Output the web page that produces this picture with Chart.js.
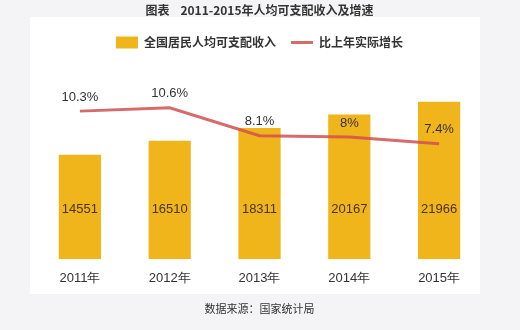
<!DOCTYPE html>
<html>
<head>
<meta charset="utf-8">
<script src="https://cdn.jsdelivr.net/npm/chart.js@4/dist/chart.umd.min.js"></script>
<style>
    html, body { margin: 0; padding: 0; background: #f4f4f6; }
    #wrap { width: 520px; height: 330px; }
</style>
</head>
<body>
<div id="wrap"><canvas id="incomeChart" width="520" height="330"></canvas></div>
<script>
// Chart data
const years = ['2011年', '2012年', '2013年', '2014年', '2015年'];
const income = [14551, 16510, 18311, 20167, 21966];
const growth = [10.3, 10.6, 8.1, 8, 7.4];

const cjkFont = "'Noto Sans CJK SC', 'Noto Sans', sans-serif";
const numFont = "'Liberation Sans', Arial, sans-serif";

// Gray page with a white card behind the chart
const panelPlugin = {
    id: 'panel',
    beforeDraw(chart) {
        const ctx = chart.ctx;
        ctx.save();
        ctx.fillStyle = '#f4f4f6';
        ctx.fillRect(0, 0, chart.width, chart.height);
        ctx.fillStyle = '#ffffff';
        ctx.fillRect(30, 17, 450, 277);
        ctx.restore();
    }
};

// Value labels inside bars and above the line points
const labelPlugin = {
    id: 'valueLabels',
    afterDatasetsDraw(chart) {
        const ctx = chart.ctx;
        const points = chart.getDatasetMeta(0).data;
        const bars = chart.getDatasetMeta(1).data;
        ctx.save();
        ctx.textAlign = 'center';
        ctx.textBaseline = 'middle';

        ctx.font = '13px ' + numFont;
        ctx.fillStyle = '#4a3418';
        bars.forEach((bar, i) => {
            ctx.fillText(String(income[i]), bar.x, chart.chartArea.bottom - 50);
        });

        ctx.fillStyle = '#333333';
        points.forEach((pt, i) => {
            ctx.fillText(growth[i] + '%', pt.x, pt.y - 14);
        });
        ctx.restore();
    }
};

const ctx = document.getElementById('incomeChart').getContext('2d');
new Chart(ctx, {
    data: {
        labels: years,
        datasets: [
            {
                type: 'line',
                label: '比上年实际增长',
                data: growth,
                yAxisID: 'y1',
                borderColor: 'rgba(208, 80, 80, 0.85)',
                backgroundColor: 'rgba(208, 80, 80, 0.85)',
                borderWidth: 3,
                pointRadius: 0,
                pointStyle: 'line',
                tension: 0,
                order: 0
            },
            {
                type: 'bar',
                label: '全国居民人均可支配收入',
                data: income,
                yAxisID: 'y',
                backgroundColor: '#f1b51c',
                borderWidth: 0,
                pointStyle: 'rect',
                categoryPercentage: 1,
                barPercentage: 0.47,
                order: 1
            }
        ]
    },
    options: {
        responsive: false,
        animation: false,
        layout: {
            padding: { left: 35, right: 36, top: 0, bottom: 15 }
        },
        plugins: {
            title: {
                display: true,
                text: '图表    2011-2015年人均可支配收入及增速',
                color: '#333333',
                font: { family: cjkFont, size: 12, weight: 'bold' },
                padding: { top: 3, bottom: 4 }
            },
            subtitle: {
                display: true,
                position: 'bottom',
                text: '数据来源：国家统计局',
                color: '#333333',
                font: { family: cjkFont, size: 11 },
                padding: { top: 13, bottom: 0 }
            },
            legend: {
                reverse: true,
                labels: {
                    usePointStyle: true,
                    pointStyleWidth: 22,
                    boxHeight: 14,
                    padding: 15,
                    color: '#333333',
                    font: { family: cjkFont, size: 12, weight: 'bold' }
                }
            },
            tooltip: { enabled: false }
        },
        scales: {
            x: {
                grid: { display: false },
                border: { display: false },
                ticks: {
                    color: '#333333',
                    padding: 3,
                    font: { family: numFont, size: 13 }
                }
            },
            y: {
                display: false,
                min: 0,
                max: 28000
            },
            y1: {
                display: false,
                min: -2.9,
                max: 15
            }
        }
    },
    plugins: [panelPlugin, labelPlugin]
});
</script>
</body>
</html>
